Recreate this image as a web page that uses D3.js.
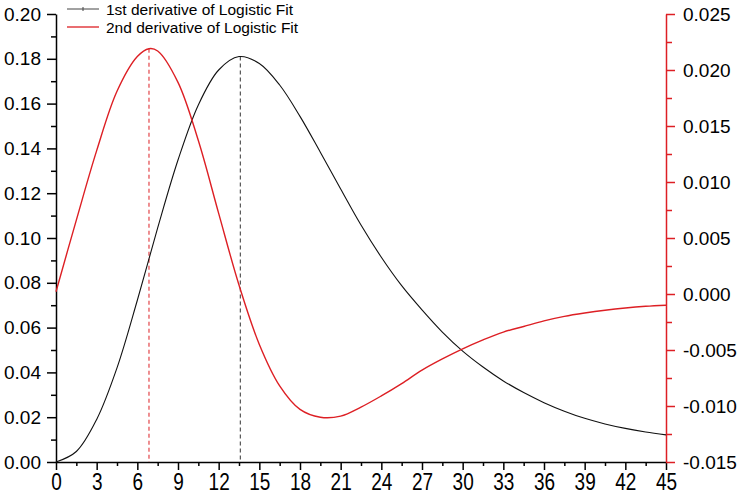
<!DOCTYPE html>
<html>
<head>
<meta charset="utf-8">
<script src="https://cdn.jsdelivr.net/npm/d3@7"></script>
<style>
  html, body { margin: 0; padding: 0; background: #fff; }
  svg { display: block; font-family: "Liberation Sans", Arial, sans-serif; }
</style>
</head>
<body>
<svg id="chart" width="740" height="496"></svg>
<script>
// ---- data ----
const xTicks = [0, 3, 6, 9, 12, 15, 18, 21, 24, 27, 30, 33, 36, 39, 42, 45];
const leftTicks = [0, 0.02, 0.04, 0.06, 0.08, 0.10, 0.12, 0.14, 0.16, 0.18, 0.20];
const rightTicks = [-0.015, -0.010, -0.005, 0.000, 0.005, 0.010, 0.015, 0.020, 0.025];

// 1st derivative (left axis)
const d1X = [0, 1.5, 3, 4.5, 6, 7.5, 9, 10.5, 12, 13.5, 15, 16.5, 18, 19.5, 21, 22.5, 24, 25.5, 27, 28.5, 30, 31.5, 33, 34.5, 36, 37.5, 39, 40.5, 42, 43.5, 45];
const d1Y = [0, 0.0047, 0.0190, 0.0420, 0.0722, 0.1045, 0.1348, 0.1594, 0.1750, 0.1810, 0.1779, 0.1683, 0.1543, 0.1383, 0.1219, 0.1058, 0.0914, 0.0787, 0.0679, 0.0580, 0.0495, 0.0424, 0.0362, 0.0310, 0.0265, 0.0227, 0.0195, 0.0170, 0.0150, 0.0134, 0.0121];

// 2nd derivative (right axis)
const d2X = [0, 1.5, 3, 4.5, 6, 6.86, 7.5, 9, 10.5, 12, 13.5, 15, 16.5, 18, 19.5, 21, 22.5, 24, 25.5, 27, 28.5, 30, 31.5, 33, 34.5, 36, 37.5, 39, 40.5, 42, 43.5, 45];
const d2Y = [0.0002, 0.0066, 0.0128, 0.0181, 0.0212, 0.0219, 0.0217, 0.0189, 0.0137, 0.0072, 0.0008, -0.0045, -0.0082, -0.0103, -0.0110, -0.0109, -0.0101, -0.0091, -0.0080, -0.0068, -0.0058, -0.0049, -0.0041, -0.0034, -0.0029, -0.0024, -0.0020, -0.0017, -0.00145, -0.00125, -0.0011, -0.0010];

const peakD1 = { x: 13.6, y: 0.181 };
const peakD2 = { x: 6.86, y: 0.0219 };
const legendLabels = ["1st  derivative of Logistic Fit", "2nd derivative of Logistic Fit"];

// ---- layout ----
const L = 56, R = 666, T = 14, B = 462;
const RED = "#dd1f24";
const FONT = "Liberation Sans, Arial, sans-serif";

const svg = d3.select("#chart");
const x = d3.scaleLinear().domain([0, 45]).range([L, R]);
const yL = d3.scaleLinear().domain([0, 0.20]).range([B, T]);
const yR = d3.scaleLinear().domain([-0.015, 0.025]).range([B, T]);

function styleAxis(g, color, fs) {
  g.selectAll("path").attr("stroke", color).attr("stroke-width", 1.5);
  g.selectAll("line").attr("stroke", color).attr("stroke-width", 1.5);
  g.selectAll("text").attr("fill", "#000").attr("font-size", fs).attr("font-family", FONT);
}
const hyphenFmt = f => d => f(d).replace("\u2212", "-");

// minor ticks
const xMinor = d3.range(1.5, 45, 3);
const yLMinor = d3.range(0.01, 0.2, 0.02);
const yRMinor = d3.range(-0.0125, 0.025, 0.005);

svg.append("g").attr("transform", `translate(0,${B})`)
  .call(d3.axisBottom(x).tickValues(xMinor).tickSize(4).tickFormat(""))
  .call(g => { g.select(".domain").remove(); styleAxis(g, "#000", 19); });
svg.append("g").attr("transform", `translate(${L},0)`)
  .call(d3.axisLeft(yL).tickValues(yLMinor).tickSize(5).tickFormat(""))
  .call(g => { g.select(".domain").remove(); styleAxis(g, "#000", 19); });
svg.append("g").attr("transform", `translate(${R},0)`)
  .call(d3.axisRight(yR).tickValues(yRMinor).tickSize(6).tickFormat(""))
  .call(g => { g.select(".domain").remove(); styleAxis(g, RED, 19); });

// major axes
svg.append("g").attr("transform", `translate(0,${B})`)
  .call(d3.axisBottom(x).tickValues(xTicks).tickSize(8).tickSizeOuter(0).tickPadding(4).tickFormat(d3.format("d")))
  .call(g => {
    styleAxis(g, "#000", 19);
    // bottom labels in the reference are drawn taller than wide
    g.selectAll(".tick text").attr("y", 0).attr("dy", null)
      .attr("transform", "translate(0,28) scale(1,1.3)");
  });
svg.append("g").attr("transform", `translate(${L},0)`)
  .call(d3.axisLeft(yL).tickValues(leftTicks).tickSize(9).tickSizeOuter(0).tickPadding(6).tickFormat(d3.format(".2f")))
  .call(g => styleAxis(g, "#000", 19));
svg.append("g").attr("transform", `translate(${R},0)`)
  .call(d3.axisRight(yR).tickValues(rightTicks).tickSize(9).tickSizeOuter(0).tickPadding(8).tickFormat(hyphenFmt(d3.format(".3f"))))
  .call(g => styleAxis(g, RED, 19));

// dashed drop lines
svg.append("line")
  .attr("x1", x(peakD2.x)).attr("x2", x(peakD2.x))
  .attr("y1", yR(peakD2.y)).attr("y2", B)
  .attr("stroke", RED).attr("stroke-width", 1).attr("stroke-dasharray", "4,3");
svg.append("line")
  .attr("x1", x(peakD1.x)).attr("x2", x(peakD1.x))
  .attr("y1", yL(peakD1.y)).attr("y2", B)
  .attr("stroke", "#555").attr("stroke-width", 1.2).attr("stroke-dasharray", "4,3");

// curves
const d1 = d1X.map((v, i) => [v, d1Y[i]]);
const d2 = d2X.map((v, i) => [v, d2Y[i]]);
svg.append("path").datum(d1)
  .attr("fill", "none").attr("stroke", "#111").attr("stroke-width", 1.1)
  .attr("d", d3.line().x(d => x(d[0])).y(d => yL(d[1])).curve(d3.curveCatmullRom.alpha(0.5)));
svg.append("path").datum(d2)
  .attr("fill", "none").attr("stroke", RED).attr("stroke-width", 1.4)
  .attr("d", d3.line().x(d => x(d[0])).y(d => yR(d[1])).curve(d3.curveCatmullRom.alpha(0.5)));

// legend
const lg = svg.append("g");
const rows = [{ c: "#444", y: 9 }, { c: RED, y: 27 }];
rows.forEach((r, i) => {
  lg.append("line").attr("x1", 67).attr("x2", 99).attr("y1", r.y).attr("y2", r.y)
    .attr("stroke", r.c).attr("stroke-width", i === 0 ? 1 : 1.3);
  lg.append("text").attr("x", 106).attr("y", r.y + 5.5)
    .attr("font-size", 15.5).attr("font-family", FONT).attr("fill", "#000").text(legendLabels[i]);
});
lg.append("line").attr("x1", 83).attr("x2", 83).attr("y1", 7).attr("y2", 11).attr("stroke", "#444").attr("stroke-width", 1);
</script>
</body>
</html>
